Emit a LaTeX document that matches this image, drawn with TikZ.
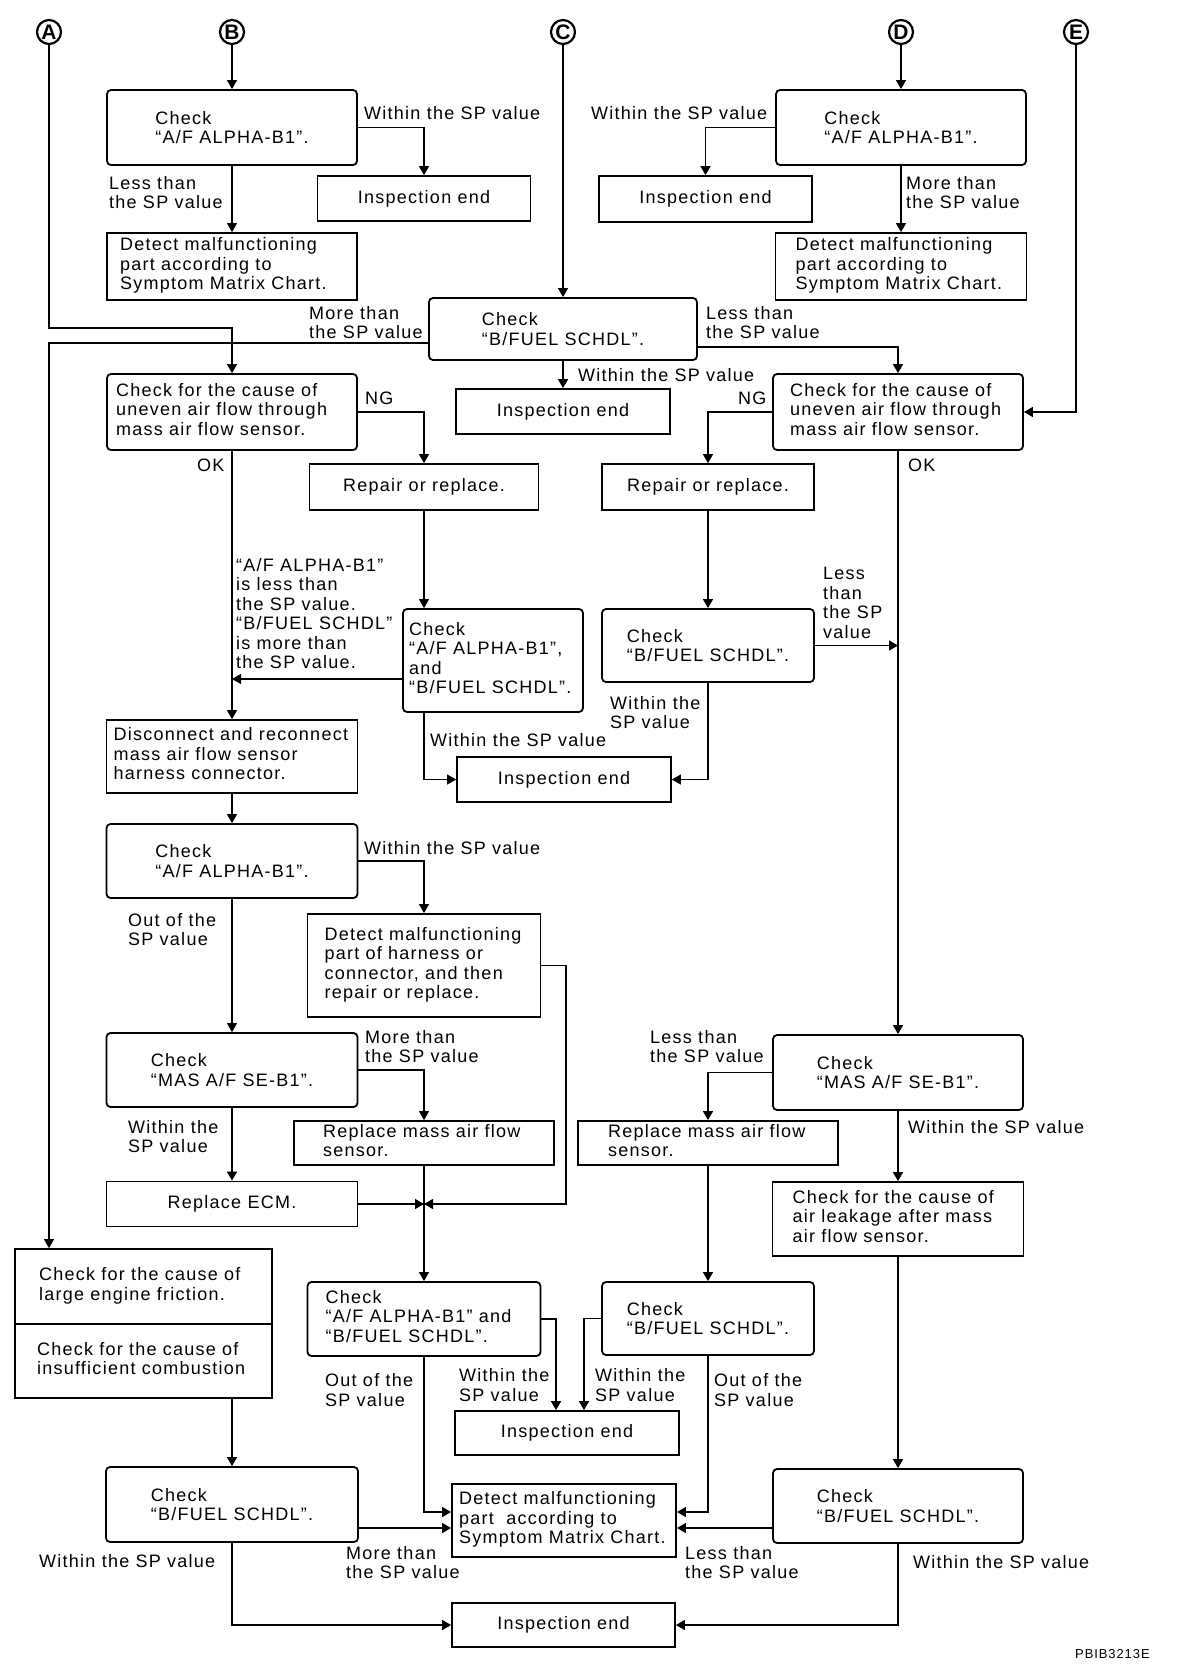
\documentclass[tikz,border=0pt]{standalone}
\usepackage{fontspec}
\setmainfont{Liberation Sans}[LetterSpace=7]
\newfontfamily\circfont{Liberation Sans}
\usetikzlibrary{arrows.meta}
\newcommand{\LB}[2]{\makebox[#1][l]{\begin{tabular}{@{}l@{}}#2\end{tabular}}}
\begin{document}
\begin{tikzpicture}[x=1pt,y=-1pt,
  every node/.style={font=\fontsize{18}{19.5}\selectfont},
  sq/.style={draw, line width=1.8pt, inner sep=0pt, align=left},
  rd/.style={sq, rounded corners=4pt},
  lb/.style={draw, line width=1.8pt, inner ysep=0pt, inner xsep=#1},
  lbr/.style={lb=#1, rounded corners=4pt},
  wh/.style 2 args={minimum width=#1pt, minimum height=#2pt},
  cl/.style={draw, circle, line width=2.2pt, minimum size=24pt, inner sep=0pt, font=\circfont\fontsize{21}{21}\selectfont\bfseries},
  lbl/.style={anchor=west, inner sep=0pt, align=left},
  arr/.style={line width=1.4pt, -{Triangle[length=9pt,width=10pt]}}]
\fill[white] (0,0) rectangle (1200,1668);
\useasboundingbox (0,0) rectangle (1200,1668);

% circled connectors
\node[cl] (cA) at (49,32) {A};
\node[cl] (cB) at (232,32) {B};
\node[cl] (cC) at (563,32) {C};
\node[cl] (cD) at (901,32) {D};
\node[cl] (cE) at (1076,32) {E};

% boxes
\node[rd, wh={250}{75}] (b1) at (232,127.5) {Check\\“A/F ALPHA-B1”.};
\node[sq, wh={213}{45}] (ie1) at (424,198.5) {Inspection end};
\node[lb=13pt, wh={250}{67}] (det1) at (232,266.5) {\LB{224pt}{Detect malfunctioning\\part according to\\Symptom Matrix Chart.}};
\node[rd, wh={250}{75}] (d1) at (901,127.5) {Check\\“A/F ALPHA-B1”.};
\node[sq, wh={213}{46}] (ie2) at (705.5,199) {Inspection end};
\node[lb=20pt, wh={251}{67}] (det2) at (901,266.5) {\LB{211pt}{Detect malfunctioning\\part according to\\Symptom Matrix Chart.}};
\node[rd, wh={268}{62}] (bf1) at (563,329) {Check\\“B/FUEL SCHDL”.};
\node[sq, wh={214}{45}] (ie3) at (563,411.5) {Inspection end};
\node[lbr=9pt, wh={250}{76}] (cc1) at (232,412) {\LB{232pt}{Check for the cause of\\uneven air flow through\\mass air flow sensor.}};
\node[lbr=17pt, wh={250}{76}] (cc2) at (898,412) {\LB{216pt}{Check for the cause of\\uneven air flow through\\mass air flow sensor.}};
\node[sq, wh={229}{46}] (rp1) at (424,487) {Repair or replace.};
\node[sq, wh={212}{46}] (rp2) at (708,487) {Repair or replace.};
\node[lbr=6pt, wh={180}{103}] (ab1) at (493,660.5) {\LB{168pt}{Check\\“A/F ALPHA-B1”,\\and\\“B/FUEL SCHDL”.}};
\node[rd, wh={212}{73}] (bf2) at (708,645.5) {Check\\“B/FUEL SCHDL”.};
\node[sq, wh={214}{45}] (ie4) at (564,779.5) {Inspection end};
\node[lb=7pt, wh={251}{73}] (dis) at (232,756.5) {\LB{237pt}{Disconnect and reconnect\\mass air flow sensor\\harness connector.}};
\node[rd, wh={251}{74}] (af2) at (232,861) {Check\\“A/F ALPHA-B1”.};
\node[lb=17pt, wh={233}{103}] (dh) at (424,965.5) {\LB{199pt}{Detect malfunctioning\\part of harness or\\connector, and then\\repair or replace.}};
\node[rd, wh={251}{74}] (mas1) at (232,1070) {Check\\“MAS A/F SE-B1”.};
\node[lb=29pt, wh={260}{44}] (maf1) at (424,1143) {\LB{202pt}{Replace mass air flow\\sensor.}};
\node[sq, wh={251}{45}] (ecm) at (232,1204) {Replace ECM.};
\node[rd, wh={250}{75}] (mas2) at (898,1072.5) {Check\\“MAS A/F SE-B1”.};
\node[lb=30pt, wh={260}{44}] (maf2) at (708,1143) {\LB{200pt}{Replace mass air flow\\sensor.}};
\node[lb=20pt, wh={251}{74}] (leak) at (898,1219) {\LB{211pt}{Check for the cause of\\air leakage after mass\\air flow sensor.}};
\node[lb=24pt, wh={257}{75}] (fr1) at (143.5,1286.5) {\LB{209pt}{Check for the cause of\\large engine friction.}};
\node[lb=22pt, wh={257}{74}] (fr2) at (143.5,1361) {\LB{213pt}{Check for the cause of\\insufficient combustion}};
\node[lbr=18pt, wh={233}{74}] (ab2) at (424,1319) {\LB{197pt}{Check\\“A/F ALPHA-B1” and\\“B/FUEL SCHDL”.}};
\node[rd, wh={212}{73}] (bf3) at (708,1318.5) {Check\\“B/FUEL SCHDL”.};
\node[sq, wh={224}{44}] (ie5) at (567,1433) {Inspection end};
\node[lb=7pt, wh={224}{73}] (det3) at (564,1520.5) {\LB{210pt}{Detect malfunctioning\\part~ according to\\Symptom Matrix Chart.}};
\node[rd, wh={252}{75}] (bf4) at (232,1504.5) {Check\\“B/FUEL SCHDL”.};
\node[rd, wh={250}{74}] (bf5) at (898,1506) {Check\\“B/FUEL SCHDL”.};
\node[sq, wh={223}{44}] (ie6) at (563.5,1625) {Inspection end};

% helper coordinates
\coordinate (jA) at (232,328);
\coordinate (y343) at (0,343);
\coordinate (y347) at (0,347);
\coordinate (jL) at (232,679);
\coordinate (jR) at (898,645.5);
\coordinate (j1) at (424,1204);
\coordinate (dhc) at (566,1204);
\coordinate (x556) at (556,0);
\coordinate (x584) at (584,0);
\coordinate (y1528) at (0,1528);

% connectors
\draw[arr] (cA) |- (jA) -- (cc1.north);
\draw[arr] (cB) -- (b1);
\draw[arr] (b1.east) -| (ie1.north);
\draw[arr] (b1) -- (det1);
\draw[arr] (cD) -- (d1);
\draw[arr] (d1.west) -| (ie2.north);
\draw[arr] (d1) -- (det2);
\draw[arr] (cC) -- (bf1);
\draw[arr] (bf1) -- (ie3);
\draw[arr] (bf1.west |- y343) -| (cA |- fr1.north);
\draw[arr] (bf1.east |- y347) -| (cc2.north);
\draw[arr] (cE) |- (cc2.east);
\draw[arr] (cc1.east) -| (rp1.north);
\draw[arr] (cc2.west) -| (rp2.north);
\draw[arr] (cc1) -- (dis);
\draw[arr] (ab1.west |- jL) -- (jL);
\draw[arr] (rp1) -- (rp1 |- ab1.north);
\draw[arr] (ab1.south -| rp1) |- (ie4.west);
\draw[arr] (rp2) -- (bf2);
\draw[arr] (bf2.east) -- (jR);
\draw[arr] (bf2) |- (ie4.east);
\draw[arr] (cc2) -- (mas2);
\draw[arr] (dis) -- (af2);
\draw[arr] (af2.east) -| (dh.north);
\draw[arr] (af2) -- (mas1);
\draw[arr] (dh.east) -| (dhc) -- (j1);
\draw[arr] (mas1.east) -| (maf1.north);
\draw[arr] (mas1) -- (ecm);
\draw[arr] (ecm.east) -- (j1);
\draw[arr] (maf1) -- (ab2);
\draw[arr] (mas2.west) -| (maf2.north);
\draw[arr] (mas2) -- (leak);
\draw[arr] (leak) -- (bf5);
\draw[arr] (maf2) -- (bf3);
\draw[arr] (fr2.south -| bf4) -- (bf4);
\draw[arr] (ab2.east) -| (x556 |- ie5.north);
\draw[arr] (bf3.west) -| (x584 |- ie5.north);
\draw[arr] (ab2) |- ([yshift=8.5pt]det3.west);
\draw[arr] (bf4.east |- y1528) -- (det3.west |- y1528);
\draw[arr] (bf4) |- (ie6.west);
\draw[arr] (bf3) |- ([yshift=8.5pt]det3.east);
\draw[arr] (bf5.west |- y1528) -- (det3.east |- y1528);
\draw[arr] (bf5) |- (ie6.east);

% labels
\node[lbl] (L1) at (364,113) {Within the SP value};
\node[lbl] (L2) at (109,192.5) {Less than\\the SP value};
\node[lbl] (L3) at (591,113) {Within the SP value};
\node[lbl] (L4) at (906,192.5) {More than\\the SP value};
\node[lbl] (L5) at (309,322.5) {More than\\the SP value};
\node[lbl] (L6) at (706,322.5) {Less than\\the SP value};
\node[lbl] (L7) at (578,375) {Within the SP value};
\node[lbl] (L8) at (365,398) {NG};
\node[lbl] (L9) at (738,398) {NG};
\node[lbl] (L10) at (197,465) {OK};
\node[lbl] (L11) at (908,465) {OK};
\node[lbl] (L12) at (236,613.5) {“A/F ALPHA-B1”\\is less than\\the SP value.\\“B/FUEL SCHDL”\\is more than\\the SP value.};
\node[lbl] (L13) at (430,740) {Within the SP value};
\node[lbl] (L14) at (823,603) {Less\\than\\the SP\\value};
\node[lbl] (L15) at (610,712.5) {Within the\\SP value};
\node[lbl] (L16) at (364,848) {Within the SP value};
\node[lbl] (L17) at (128,929.5) {Out of the\\SP value};
\node[lbl] (L18) at (365,1046.5) {More than\\the SP value};
\node[lbl] (L19) at (128,1136.5) {Within the\\SP value};
\node[lbl] (L20) at (650,1046.5) {Less than\\the SP value};
\node[lbl] (L21) at (908,1127) {Within the SP value};
\node[lbl] (L22) at (325,1390) {Out of the\\SP value};
\node[lbl] (L23) at (459,1385) {Within the\\SP value};
\node[lbl] (L24) at (595,1385) {Within the\\SP value};
\node[lbl] (L25) at (714,1390) {Out of the\\SP value};
\node[lbl] (L26) at (39,1561) {Within the SP value};
\node[lbl] (L27) at (346,1562.5) {More than\\the SP value};
\node[lbl] (L28) at (685,1562.5) {Less than\\the SP value};
\node[lbl] (L29) at (913,1562) {Within the SP value};
\node[lbl, font=\fontsize{13}{13}\selectfont] (L30) at (1075,1654) {PBIB3213E};
\end{tikzpicture}
\end{document}
